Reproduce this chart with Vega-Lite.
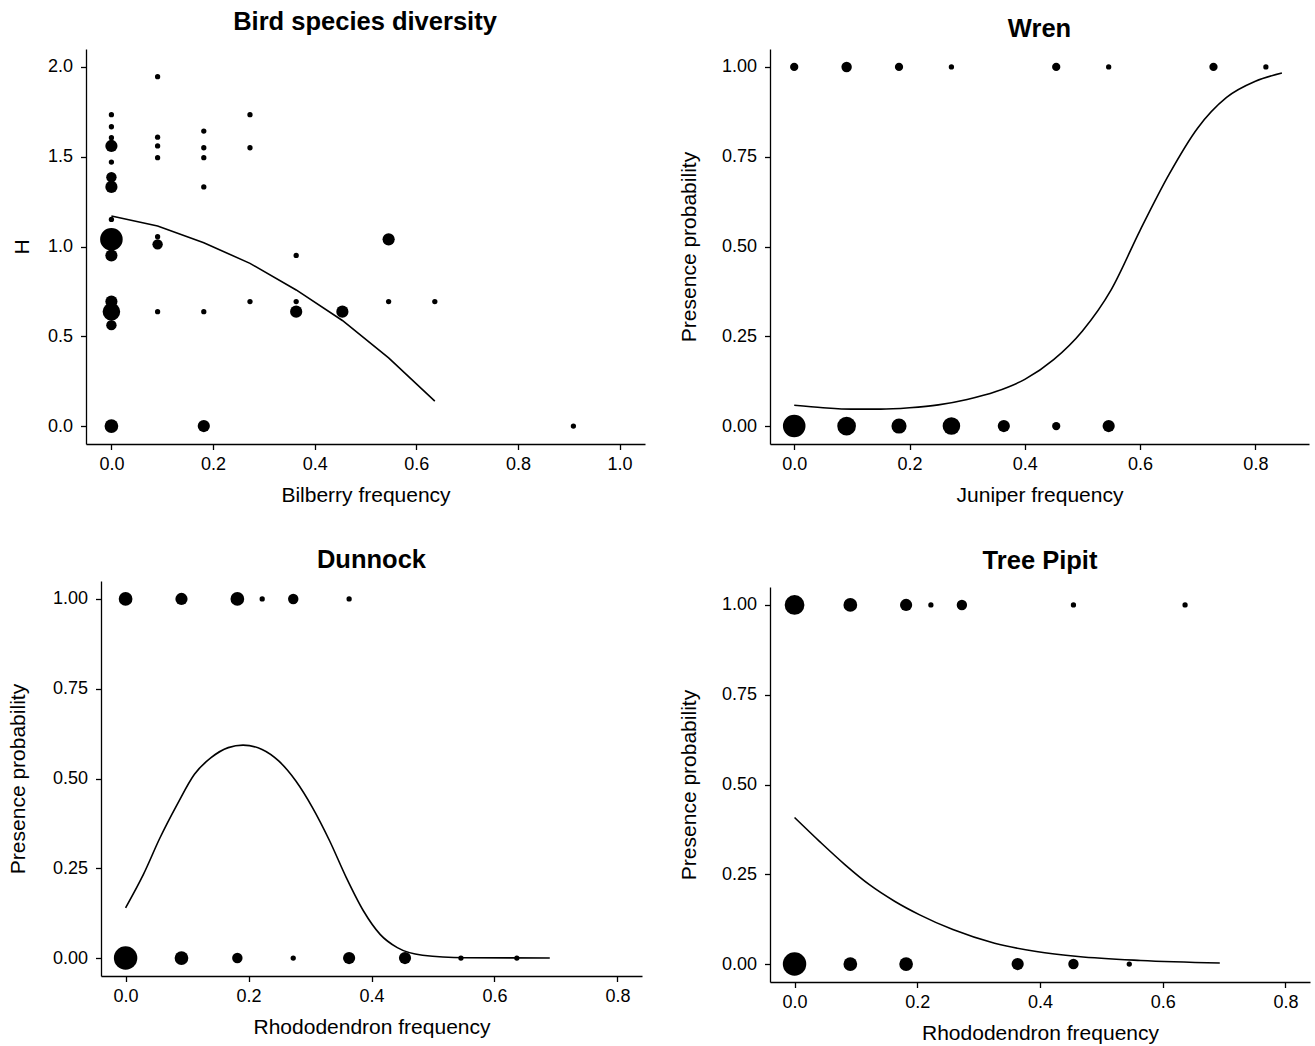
{
  "$schema": "https://vega.github.io/schema/vega-lite/v6.json",
  "padding": {"left": 7, "top": 10, "right": 2, "bottom": 2},
  "background": "white",
  "config": {
    "view": {"stroke": null},
    "font": "Liberation Sans",
    "axis": {"grid": false, "domainColor": "black", "tickColor": "black", "labelColor": "black", "titleColor": "black", "labelFontSize": 18, "titleFontSize": 21, "titleFontWeight": "normal", "tickSize": 5.5, "labelPadding": 6, "domainWidth": 1.3, "tickWidth": 1.3},
    "axisY": {"labelPadding": 8},
    "axisX": {"titlePadding": 11},
    "title": {"fontSize": 25.5, "fontWeight": "bold", "color": "black", "anchor": "middle", "frame": "group", "baseline": "alphabetic"}
  },
  "spacing": 41,
  "resolve": {"scale": {"x": "independent", "y": "independent", "size": "independent"}},
  "vconcat": [
    {
      "spacing": 18,
      "resolve": {"scale": {"x": "independent", "y": "independent", "size": "independent"}},
      "hconcat": [
        {
          "width": 544, "height": 395,
          "title": {"text": "Bird species diversity", "offset": 13.5, "dx": -8},
          "layer": [
            {
              "data": {"values": [
                {"x": 0, "y": 1.734, "n": 1}, {"x": 0, "y": 1.667, "n": 1}, {"x": 0, "y": 1.606, "n": 1}, {"x": 0, "y": 1.56, "n": 4}, {"x": 0, "y": 1.47, "n": 1}, {"x": 0, "y": 1.386, "n": 3}, {"x": 0, "y": 1.332, "n": 4}, {"x": 0, "y": 1.151, "n": 1}, {"x": 0, "y": 1.04, "n": 13}, {"x": 0, "y": 0.95, "n": 4}, {"x": 0, "y": 0.693, "n": 4}, {"x": 0, "y": 0.637, "n": 8}, {"x": 0, "y": 0.562, "n": 3}, {"x": 0, "y": 0, "n": 5},
                {"x": 0.0909, "y": 1.946, "n": 1}, {"x": 0.0909, "y": 1.609, "n": 1}, {"x": 0.0909, "y": 1.56, "n": 1}, {"x": 0.0909, "y": 1.495, "n": 1}, {"x": 0.0909, "y": 1.055, "n": 1}, {"x": 0.0909, "y": 1.012, "n": 3}, {"x": 0.0909, "y": 0.637, "n": 1},
                {"x": 0.1818, "y": 1.643, "n": 1}, {"x": 0.1818, "y": 1.55, "n": 1}, {"x": 0.1818, "y": 1.495, "n": 1}, {"x": 0.1818, "y": 1.332, "n": 1}, {"x": 0.1818, "y": 0.637, "n": 1}, {"x": 0.1818, "y": 0, "n": 4},
                {"x": 0.2727, "y": 1.734, "n": 1}, {"x": 0.2727, "y": 1.55, "n": 1}, {"x": 0.2727, "y": 0.693, "n": 1},
                {"x": 0.3636, "y": 0.95, "n": 1}, {"x": 0.3636, "y": 0.693, "n": 1}, {"x": 0.3636, "y": 0.637, "n": 4},
                {"x": 0.4545, "y": 0.637, "n": 4},
                {"x": 0.5455, "y": 1.04, "n": 4}, {"x": 0.5455, "y": 0.693, "n": 1},
                {"x": 0.6364, "y": 0.693, "n": 1},
                {"x": 0.9091, "y": 0, "n": 1}
              ]},
              "mark": {"type": "circle", "color": "black", "opacity": 1},
              "encoding": {
                "x": {"field": "x", "type": "quantitative", "scale": {"domain": [-0.05, 1.05], "range": [-15, 544], "nice": false, "zero": false}, "axis": {"title": "Bilberry frequency", "values": [0, 0.2, 0.4, 0.6, 0.8, 1.0], "format": ".1f"}},
                "y": {"field": "y", "type": "quantitative", "scale": {"domain": [-0.1, 2.1], "nice": false, "zero": false}, "axis": {"title": "H", "values": [0, 0.5, 1.0, 1.5, 2.0], "format": ".1f", "titlePadding": 15, "offset": 15}},
                "size": {"field": "n", "type": "quantitative", "scale": {"domain": [1, 12], "range": [28, 470], "zero": false}, "legend": null}
              }
            },
            {
              "data": {"values": [
                {"x": 0, "y": 1.17}, {"x": 0.0909, "y": 1.114}, {"x": 0.1818, "y": 1.021}, {"x": 0.2727, "y": 0.906}, {"x": 0.3636, "y": 0.758}, {"x": 0.4545, "y": 0.588}, {"x": 0.5455, "y": 0.38}, {"x": 0.6364, "y": 0.139}
              ]},
              "mark": {"type": "line", "color": "black", "strokeWidth": 1.6},
              "encoding": {
                "x": {"field": "x", "type": "quantitative"},
                "y": {"field": "y", "type": "quantitative"}
              }
            }
          ]
        },
        {
          "width": 539, "height": 395,
          "title": {"text": "Wren", "offset": 6.5},
          "layer": [
            {
              "data": {"values": [
                {"x": 0, "y": 1, "n": 2}, {"x": 0.0909, "y": 1, "n": 3}, {"x": 0.1818, "y": 1, "n": 2}, {"x": 0.2727, "y": 1, "n": 1}, {"x": 0.4545, "y": 1, "n": 2}, {"x": 0.5455, "y": 1, "n": 1}, {"x": 0.7273, "y": 1, "n": 2}, {"x": 0.8182, "y": 1, "n": 1},
                {"x": 0, "y": 0, "n": 13}, {"x": 0.0909, "y": 0, "n": 9}, {"x": 0.1818, "y": 0, "n": 6}, {"x": 0.2727, "y": 0, "n": 8}, {"x": 0.3636, "y": 0, "n": 4}, {"x": 0.4545, "y": 0, "n": 2}, {"x": 0.5455, "y": 0, "n": 4}
              ]},
              "mark": {"type": "circle", "color": "black", "opacity": 1},
              "encoding": {
                "x": {"field": "x", "type": "quantitative", "scale": {"domain": [-0.042, 0.893], "nice": false, "zero": false}, "axis": {"title": "Juniper frequency", "values": [0, 0.2, 0.4, 0.6, 0.8], "format": ".1f"}},
                "y": {"field": "y", "type": "quantitative", "scale": {"domain": [-0.05, 1.05], "nice": false, "zero": false}, "axis": {"title": "Presence probability", "values": [0, 0.25, 0.5, 0.75, 1.0], "format": ".2f", "titlePadding": 22}},
                "size": {"field": "n", "type": "quantitative", "scale": {"domain": [1, 12], "range": [28, 470], "zero": false}, "legend": null}
              }
            },
            {
              "data": {"values": [
                {"x": 0, "y": 0.058}, {"x": 0.05, "y": 0.051}, {"x": 0.1, "y": 0.047}, {"x": 0.15, "y": 0.047}, {"x": 0.2, "y": 0.051}, {"x": 0.25, "y": 0.059}, {"x": 0.3, "y": 0.074}, {"x": 0.35, "y": 0.096}, {"x": 0.4, "y": 0.13}, {"x": 0.45, "y": 0.185}, {"x": 0.5, "y": 0.265}, {"x": 0.55, "y": 0.38}, {"x": 0.6, "y": 0.545}, {"x": 0.65, "y": 0.7}, {"x": 0.7, "y": 0.83}, {"x": 0.75, "y": 0.915}, {"x": 0.8, "y": 0.96}, {"x": 0.846, "y": 0.983}
              ]},
              "mark": {"type": "line", "color": "black", "strokeWidth": 1.6, "interpolate": "monotone"},
              "encoding": {
                "x": {"field": "x", "type": "quantitative"},
                "y": {"field": "y", "type": "quantitative"}
              }
            }
          ]
        }
      ]
    },
    {
      "spacing": 36,
      "resolve": {"scale": {"x": "independent", "y": "independent", "size": "independent"}},
      "hconcat": [
        {
          "width": 541, "height": 395,
          "title": {"text": "Dunnock", "offset": 8},
          "layer": [
            {
              "data": {"values": [
                {"x": 0, "y": 1, "n": 5}, {"x": 0.0909, "y": 1, "n": 4}, {"x": 0.1818, "y": 1, "n": 5}, {"x": 0.2222, "y": 1, "n": 1}, {"x": 0.2727, "y": 1, "n": 3}, {"x": 0.3636, "y": 1, "n": 1},
                {"x": 0, "y": 0, "n": 14}, {"x": 0.0909, "y": 0, "n": 5}, {"x": 0.1818, "y": 0, "n": 3}, {"x": 0.2727, "y": 0, "n": 1}, {"x": 0.3636, "y": 0, "n": 4}, {"x": 0.4545, "y": 0, "n": 4}, {"x": 0.5455, "y": 0, "n": 1}, {"x": 0.6364, "y": 0, "n": 1}
              ]},
              "mark": {"type": "circle", "color": "black", "opacity": 1},
              "encoding": {
                "x": {"field": "x", "type": "quantitative", "scale": {"domain": [-0.04, 0.84], "nice": false, "zero": false}, "axis": {"title": "Rhododendron frequency", "values": [0, 0.2, 0.4, 0.6, 0.8], "format": ".1f"}},
                "y": {"field": "y", "type": "quantitative", "scale": {"domain": [-0.05, 1.05], "nice": false, "zero": false}, "axis": {"title": "Presence probability", "values": [0, 0.25, 0.5, 0.75, 1.0], "format": ".2f", "titlePadding": 24}},
                "size": {"field": "n", "type": "quantitative", "scale": {"domain": [1, 12], "range": [28, 470], "zero": false}, "legend": null}
              }
            },
            {
              "data": {"values": [
                {"x": 0, "y": 0.14}, {"x": 0.029, "y": 0.233}, {"x": 0.056, "y": 0.335}, {"x": 0.084, "y": 0.428}, {"x": 0.112, "y": 0.512}, {"x": 0.139, "y": 0.558}, {"x": 0.167, "y": 0.586}, {"x": 0.191, "y": 0.593}, {"x": 0.222, "y": 0.581}, {"x": 0.249, "y": 0.549}, {"x": 0.277, "y": 0.493}, {"x": 0.304, "y": 0.419}, {"x": 0.332, "y": 0.326}, {"x": 0.359, "y": 0.224}, {"x": 0.387, "y": 0.131}, {"x": 0.414, "y": 0.066}, {"x": 0.442, "y": 0.029}, {"x": 0.483, "y": 0.008}, {"x": 0.552, "y": 0.001}, {"x": 0.69, "y": 0.0}
              ]},
              "mark": {"type": "line", "color": "black", "strokeWidth": 1.6, "interpolate": "monotone"},
              "encoding": {
                "x": {"field": "x", "type": "quantitative"},
                "y": {"field": "y", "type": "quantitative"}
              }
            }
          ]
        },
        {
          "width": 540, "height": 401,
          "title": {"text": "Tree Pipit", "offset": 7},
          "layer": [
            {
              "data": {"values": [
                {"x": 0, "y": 1, "n": 10}, {"x": 0.0909, "y": 1, "n": 5}, {"x": 0.1818, "y": 1, "n": 4}, {"x": 0.2222, "y": 1, "n": 1}, {"x": 0.2727, "y": 1, "n": 3}, {"x": 0.4545, "y": 1, "n": 1}, {"x": 0.6364, "y": 1, "n": 1},
                {"x": 0, "y": 0, "n": 14}, {"x": 0.0909, "y": 0, "n": 5}, {"x": 0.1818, "y": 0, "n": 5}, {"x": 0.3636, "y": 0, "n": 4}, {"x": 0.4545, "y": 0, "n": 3}, {"x": 0.5455, "y": 0, "n": 1}
              ]},
              "mark": {"type": "circle", "color": "black", "opacity": 1},
              "encoding": {
                "x": {"field": "x", "type": "quantitative", "scale": {"domain": [-0.04, 0.84], "nice": false, "zero": false}, "axis": {"title": "Rhododendron frequency", "values": [0, 0.2, 0.4, 0.6, 0.8], "format": ".1f"}},
                "y": {"field": "y", "type": "quantitative", "scale": {"domain": [-0.05, 1.05], "range": [401, 6], "nice": false, "zero": false}, "axis": {"title": "Presence probability", "values": [0, 0.25, 0.5, 0.75, 1.0], "format": ".2f", "titlePadding": 22}},
                "size": {"field": "n", "type": "quantitative", "scale": {"domain": [1, 12], "range": [28, 470], "zero": false}, "legend": null}
              }
            },
            {
              "data": {"values": [
                {"x": 0, "y": 0.408}, {"x": 0.041, "y": 0.341}, {"x": 0.082, "y": 0.277}, {"x": 0.122, "y": 0.221}, {"x": 0.163, "y": 0.175}, {"x": 0.204, "y": 0.137}, {"x": 0.258, "y": 0.096}, {"x": 0.326, "y": 0.058}, {"x": 0.394, "y": 0.035}, {"x": 0.462, "y": 0.021}, {"x": 0.564, "y": 0.01}, {"x": 0.693, "y": 0.003}
              ]},
              "mark": {"type": "line", "color": "black", "strokeWidth": 1.6, "interpolate": "monotone"},
              "encoding": {
                "x": {"field": "x", "type": "quantitative"},
                "y": {"field": "y", "type": "quantitative"}
              }
            }
          ]
        }
      ]
    }
  ]
}
